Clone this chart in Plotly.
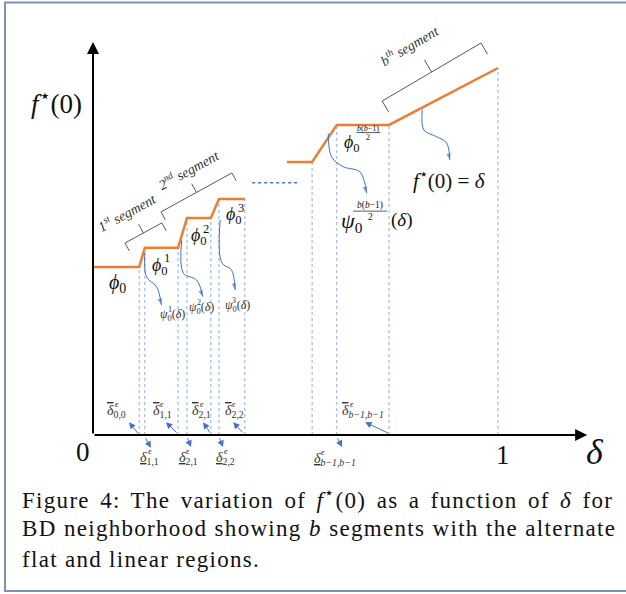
import math
import plotly.graph_objects as go

# ---------------------------------------------------------------------------
# Canvas and diagram frame
# ---------------------------------------------------------------------------
W, H = 626, 594
ORIGIN_PX = (93, 435)     # where the delta axis meets the f*(0) axis
X_UNIT_PX = 405           # pixels per unit of delta
Y_UNIT_PX = 367           # pixels per unit of f*(0)

x_range = [-ORIGIN_PX[0] / X_UNIT_PX, (W - ORIGIN_PX[0]) / X_UNIT_PX]
y_range = [-(H - ORIGIN_PX[1]) / Y_UNIT_PX, ORIGIN_PX[1] / Y_UNIT_PX]

# ---------------------------------------------------------------------------
# Data: f*(0) as a function of delta (alternating flat and linear pieces)
# ---------------------------------------------------------------------------
# first three segments
seg_a_delta = [0.0, 0.114, 0.128, 0.210, 0.232, 0.291, 0.311, 0.375]
seg_a_f = [0.458, 0.458, 0.510, 0.510, 0.591, 0.591, 0.643, 0.643]
# (b-1)-th flat piece and the b-th segment, ending on f*(0) = delta
seg_b_delta = [0.479, 0.541, 0.602, 0.731, 1.0]
seg_b_f = [0.744, 0.744, 0.845, 0.845, 1.0]
# the elided middle segments
gap_delta = [0.393, 0.504]
gap_f = [0.687, 0.687]

axis_x_end = 1.22
axis_y_end = 1.071

# segment brackets: start and end corner (delta, f)
bracket_ends = {
    "1<sup>st</sup> segment": [(0.079, 0.523), (0.170, 0.578)],
    "2<sup>nd</sup> segment": [(0.168, 0.608), (0.343, 0.714)],
    "b<sup>th</sup> segment": [(0.714, 0.910), (0.958, 1.068)],
}
bracket_text_pos = [(0.083, 0.607), (0.237, 0.724), (0.781, 1.062)]
bracket_tick_px = [9, 9, 13]

# curved pointers from the curve to the psi / f labels
psi_pointers = [
    ([0.128, 0.132, 0.157, 0.169], [0.496, 0.431, 0.404, 0.354]),
    ([0.219, 0.223, 0.256, 0.271], [0.531, 0.441, 0.422, 0.377]),
    ([0.314, 0.318, 0.342, 0.351], [0.586, 0.469, 0.450, 0.395]),
    ([0.581, 0.589, 0.618, 0.659, 0.676], [0.822, 0.758, 0.731, 0.717, 0.659]),
    ([0.813, 0.817, 0.848, 0.873, 0.881], [0.887, 0.831, 0.813, 0.796, 0.749]),
]

# straight pointers to the delta-threshold labels: (tail, head)
delta_pointers = [
    ((0.114, 0.000), (0.089, 0.035)),
    ((0.128, -0.005), (0.143, -0.035)),
    ((0.210, 0.003), (0.180, 0.035)),
    ((0.232, -0.005), (0.242, -0.033)),
    ((0.291, 0.003), (0.272, 0.035)),
    ((0.311, -0.005), (0.321, -0.033)),
    ((0.373, 0.003), (0.346, 0.035)),
    ((0.602, -0.005), (0.615, -0.033)),
    ((0.733, 0.003), (0.672, 0.035)),
]

# threshold labels (left edge delta, f, subscript)
upper_delta_labels = [
    (0.030, 0.064, "0,0"),
    (0.143, 0.064, "1,1"),
    (0.240, 0.064, "2,1"),
    (0.320, 0.064, "2,2"),
    (0.610, 0.064, "b−1,b−1"),
]
lower_delta_labels = [
    (0.112, -0.064, "1,1"),
    (0.207, -0.064, "2,1"),
    (0.299, -0.064, "2,2"),
    (0.540, -0.066, "b−1,b−1"),
]

# phi labels on the flat pieces (left edge delta, f, superscript)
phi_labels = [
    (0.140, 0.459, "1"),
    (0.237, 0.540, "2"),
    (0.323, 0.597, "3"),
]
psi_labels = [
    (0.161, 0.327, "1"),
    (0.233, 0.345, "2"),
    (0.320, 0.352, "3"),
]

caption_lines = [
    "Figure 4: The variation of <i>f</i><sup>⋆</sup>(0) as a function of <i>δ</i> for",
    "BD neighborhood showing <i>b</i> segments with the alternate",
    "flat and linear regions.",
]
caption_spacing = [  # (letter-spacing, word-spacing) in px
    (1.3, 3.3),
    (1.3, 0.3),
    (1.3, 0.0),
]

# ---------------------------------------------------------------------------
# Style
# ---------------------------------------------------------------------------
ORANGE = "#ed7d31"
GUIDE = "#8eaadb"
POINTER = "#4472c4"
BRACKET = "#595959"
INK = "#111111"
LABEL = "#333333"
SERIF = "Liberation Serif, Times New Roman, serif"


def px_dx(px):
    return px / X_UNIT_PX


def px_dy(px):
    return px / Y_UNIT_PX


fig = go.Figure()

# vertical dotted guides from every kink down to the delta axis
gx, gy = [], []
for d, f in list(zip(seg_a_delta[1:], seg_a_f[1:])) + list(zip(seg_b_delta[1:], seg_b_f[1:])):
    gx += [d, d, None]
    gy += [0, f, None]
fig.add_trace(go.Scatter(x=gx, y=gy, mode="lines",
                         line=dict(color=GUIDE, width=1, dash="dot"),
                         hoverinfo="skip", showlegend=False))

# elided segments
fig.add_trace(go.Scatter(x=gap_delta, y=gap_f, mode="lines",
                         line=dict(color=POINTER, width=1.5, dash="dot"),
                         hoverinfo="skip", showlegend=False))

# f*(0) curve
for xs, ys in [(seg_a_delta, seg_a_f), (seg_b_delta, seg_b_f)]:
    fig.add_trace(go.Scatter(x=xs, y=ys, mode="lines",
                             line=dict(color=ORANGE, width=2.5),
                             hoverinfo="skip", showlegend=False))

# curved pointers with arrow tips
for xs, ys in psi_pointers:
    sizes = [0] * (len(xs) - 1) + [7]
    fig.add_trace(go.Scatter(x=xs, y=ys, mode="lines+markers",
                             line=dict(color=POINTER, width=1, shape="spline", smoothing=1.0),
                             marker=dict(symbol="arrow", size=sizes, color=POINTER,
                                         angleref="previous", line=dict(width=0)),
                             hoverinfo="skip", showlegend=False))

# segment brackets
for (label, ((x0, y0), (x1, y1))), (tx, ty), tick in zip(bracket_ends.items(), bracket_text_pos, bracket_tick_px):
    dxp = (x1 - x0) * X_UNIT_PX
    dyp = (y1 - y0) * Y_UNIT_PX
    L = math.hypot(dxp, dyp)
    ux, uy = dxp / L, dyp / L
    # perpendicular pointing down towards the curve
    nx, ny = uy, -ux
    ex, ey = px_dx(nx * tick), px_dy(ny * tick)
    mx, my = (x0 + x1) / 2, (y0 + y1) / 2
    fig.add_trace(go.Scatter(
        x=[x0 + ex, x0, x1, x1 + ex, None, mx, mx - ex * 1.1],
        y=[y0 + ey, y0, y1, y1 + ey, None, my, my - ey * 1.1],
        mode="lines", line=dict(color=BRACKET, width=1),
        hoverinfo="skip", showlegend=False))
    angle = -math.degrees(math.atan2(dyp, dxp))
    fig.add_annotation(x=tx, y=ty, text=f"<i>{label}</i>", showarrow=False,
                       textangle=angle, font=dict(family=SERIF, size=14, color="#333333"))

# axes with arrow heads
fig.add_annotation(x=0, y=axis_y_end, ax=0, ay=0, xref="x", yref="y", axref="x", ayref="y",
                   showarrow=True, arrowhead=2, arrowsize=1.2, arrowwidth=2, arrowcolor="black",
                   text="", standoff=0, startstandoff=0)
fig.add_annotation(x=axis_x_end, y=0, ax=0, ay=0, xref="x", yref="y", axref="x", ayref="y",
                   showarrow=True, arrowhead=2, arrowsize=1.2, arrowwidth=2, arrowcolor="black",
                   text="", standoff=0, startstandoff=0)

# straight pointers
for (tx0, ty0), (hx, hy) in delta_pointers:
    fig.add_annotation(x=hx, y=hy, ax=tx0, ay=ty0, xref="x", yref="y", axref="x", ayref="y",
                       showarrow=True, arrowhead=2, arrowsize=1.3, arrowwidth=1, arrowcolor=POINTER,
                       text="", standoff=0, startstandoff=0)


def text(x, y, s, size, anchor="left", color=INK, **kw):
    fig.add_annotation(x=x, y=y, text=s, showarrow=False, xanchor=anchor, yanchor="middle",
                       font=dict(family=SERIF, size=size, color=color), **kw)


def stacked(x, y, base, sub, sup, size, base_w, tail="", sup_size=None, color=INK, lift=0.45):
    """base glyph with a subscript and a superscript placed above it"""
    text(x, y, f"{base}<sub>{sub}</sub>{tail}", size, color=color)
    fig.add_annotation(x=x, y=y, xshift=base_w, yshift=lift * size,
                       text=sup, showarrow=False, xanchor="left", yanchor="middle",
                       font=dict(family=SERIF, size=sup_size or 0.7 * size, color=color))


def fraction(xc, ybar, num, den, size, bar_px):
    text(xc, ybar, num, size, anchor="center", yshift=0.55 * size)
    text(xc, ybar, den, size, anchor="center", yshift=-0.6 * size)
    fig.add_shape(type="line", x0=xc - px_dx(bar_px / 2), x1=xc + px_dx(bar_px / 2),
                  y0=ybar, y1=ybar, line=dict(color=INK, width=0.7))


# axis labels
text(-0.025, -0.046, "0", 27, anchor="center")
text(1.012, -0.054, "1", 27, anchor="center")
text(1.240, -0.046, "<i>δ</i>", 36, anchor="center")
text(-0.089, 0.908, "<i>f</i><sup>⋆</sup>(0)", 27, anchor="center")

# phi labels
text(0.035, 0.414, "<i>ϕ</i><sub>0</sub>", 20)
for x, y, sup in phi_labels:
    stacked(x, y, "<i>ϕ</i>", "0", sup, 18, 12.5)
for x, y, sup in psi_labels:
    stacked(x, y, "<i>ψ</i>", "0", sup, 12, 7.5, tail="(<i>δ</i>)", sup_size=8, color=LABEL)

# (b(b-1)/2) labels
text(0.615, 0.795, "<i>ϕ</i><sub>0</sub>", 18)
fraction(0.680, 0.824, "<i>b</i>(<i>b</i>−1)", "2", 8, 24)
text(0.607, 0.581, "<i>ψ</i><sub>0</sub>", 22)
fraction(0.684, 0.610, "<i>b</i>(<i>b</i>−1)", "2", 9.5, 34)
text(0.731, 0.586, "(<i>δ</i>)", 19)

text(0.879, 0.697, "<i>f</i><sup>⋆</sup>(0) = <i>δ</i>", 21, anchor="center")

# threshold labels
for x, y, sub in upper_delta_labels:
    stacked(x, y, "<span style='text-decoration:overline'><i>δ</i></span>",
            f"<i>{sub}</i>" if "b" in sub else sub, "<i>ϵ</i>", 14, 7.5,
            sup_size=9, color=LABEL, lift=0.55)
for x, y, sub in lower_delta_labels:
    stacked(x, y, "<span style='text-decoration:underline'><i>δ</i></span>",
            f"<i>{sub}</i>" if "b" in sub else sub, "<i>ϵ</i>", 14, 7.5,
            sup_size=9, color=LABEL, lift=0.55)

# caption
for i, (line, (ls, ws)) in enumerate(zip(caption_lines, caption_spacing)):
    styled = f"<span style='letter-spacing:{ls}px;word-spacing:{ws}px'>{line}</span>"
    fig.add_annotation(x=20 / W, y=1 - (498 + 30.5 * i) / H, xref="paper", yref="paper",
                       text=styled, showarrow=False, xanchor="left", yanchor="middle",
                       font=dict(family=SERIF, size=23, color=INK))

# frame around the figure
fig.add_shape(type="rect", xref="paper", yref="paper",
              x0=5 / W, x1=1.02, y0=1 - 591 / H, y1=1 - 2.5 / H,
              line=dict(color="#7b93b5", width=2))

fig.update_layout(
    width=W, height=H,
    margin=dict(l=0, r=0, t=0, b=0),
    paper_bgcolor="white", plot_bgcolor="white",
    xaxis=dict(range=x_range, visible=False, fixedrange=True),
    yaxis=dict(range=y_range, visible=False, fixedrange=True),
    showlegend=False,
)

fig.write_html("out.html")
